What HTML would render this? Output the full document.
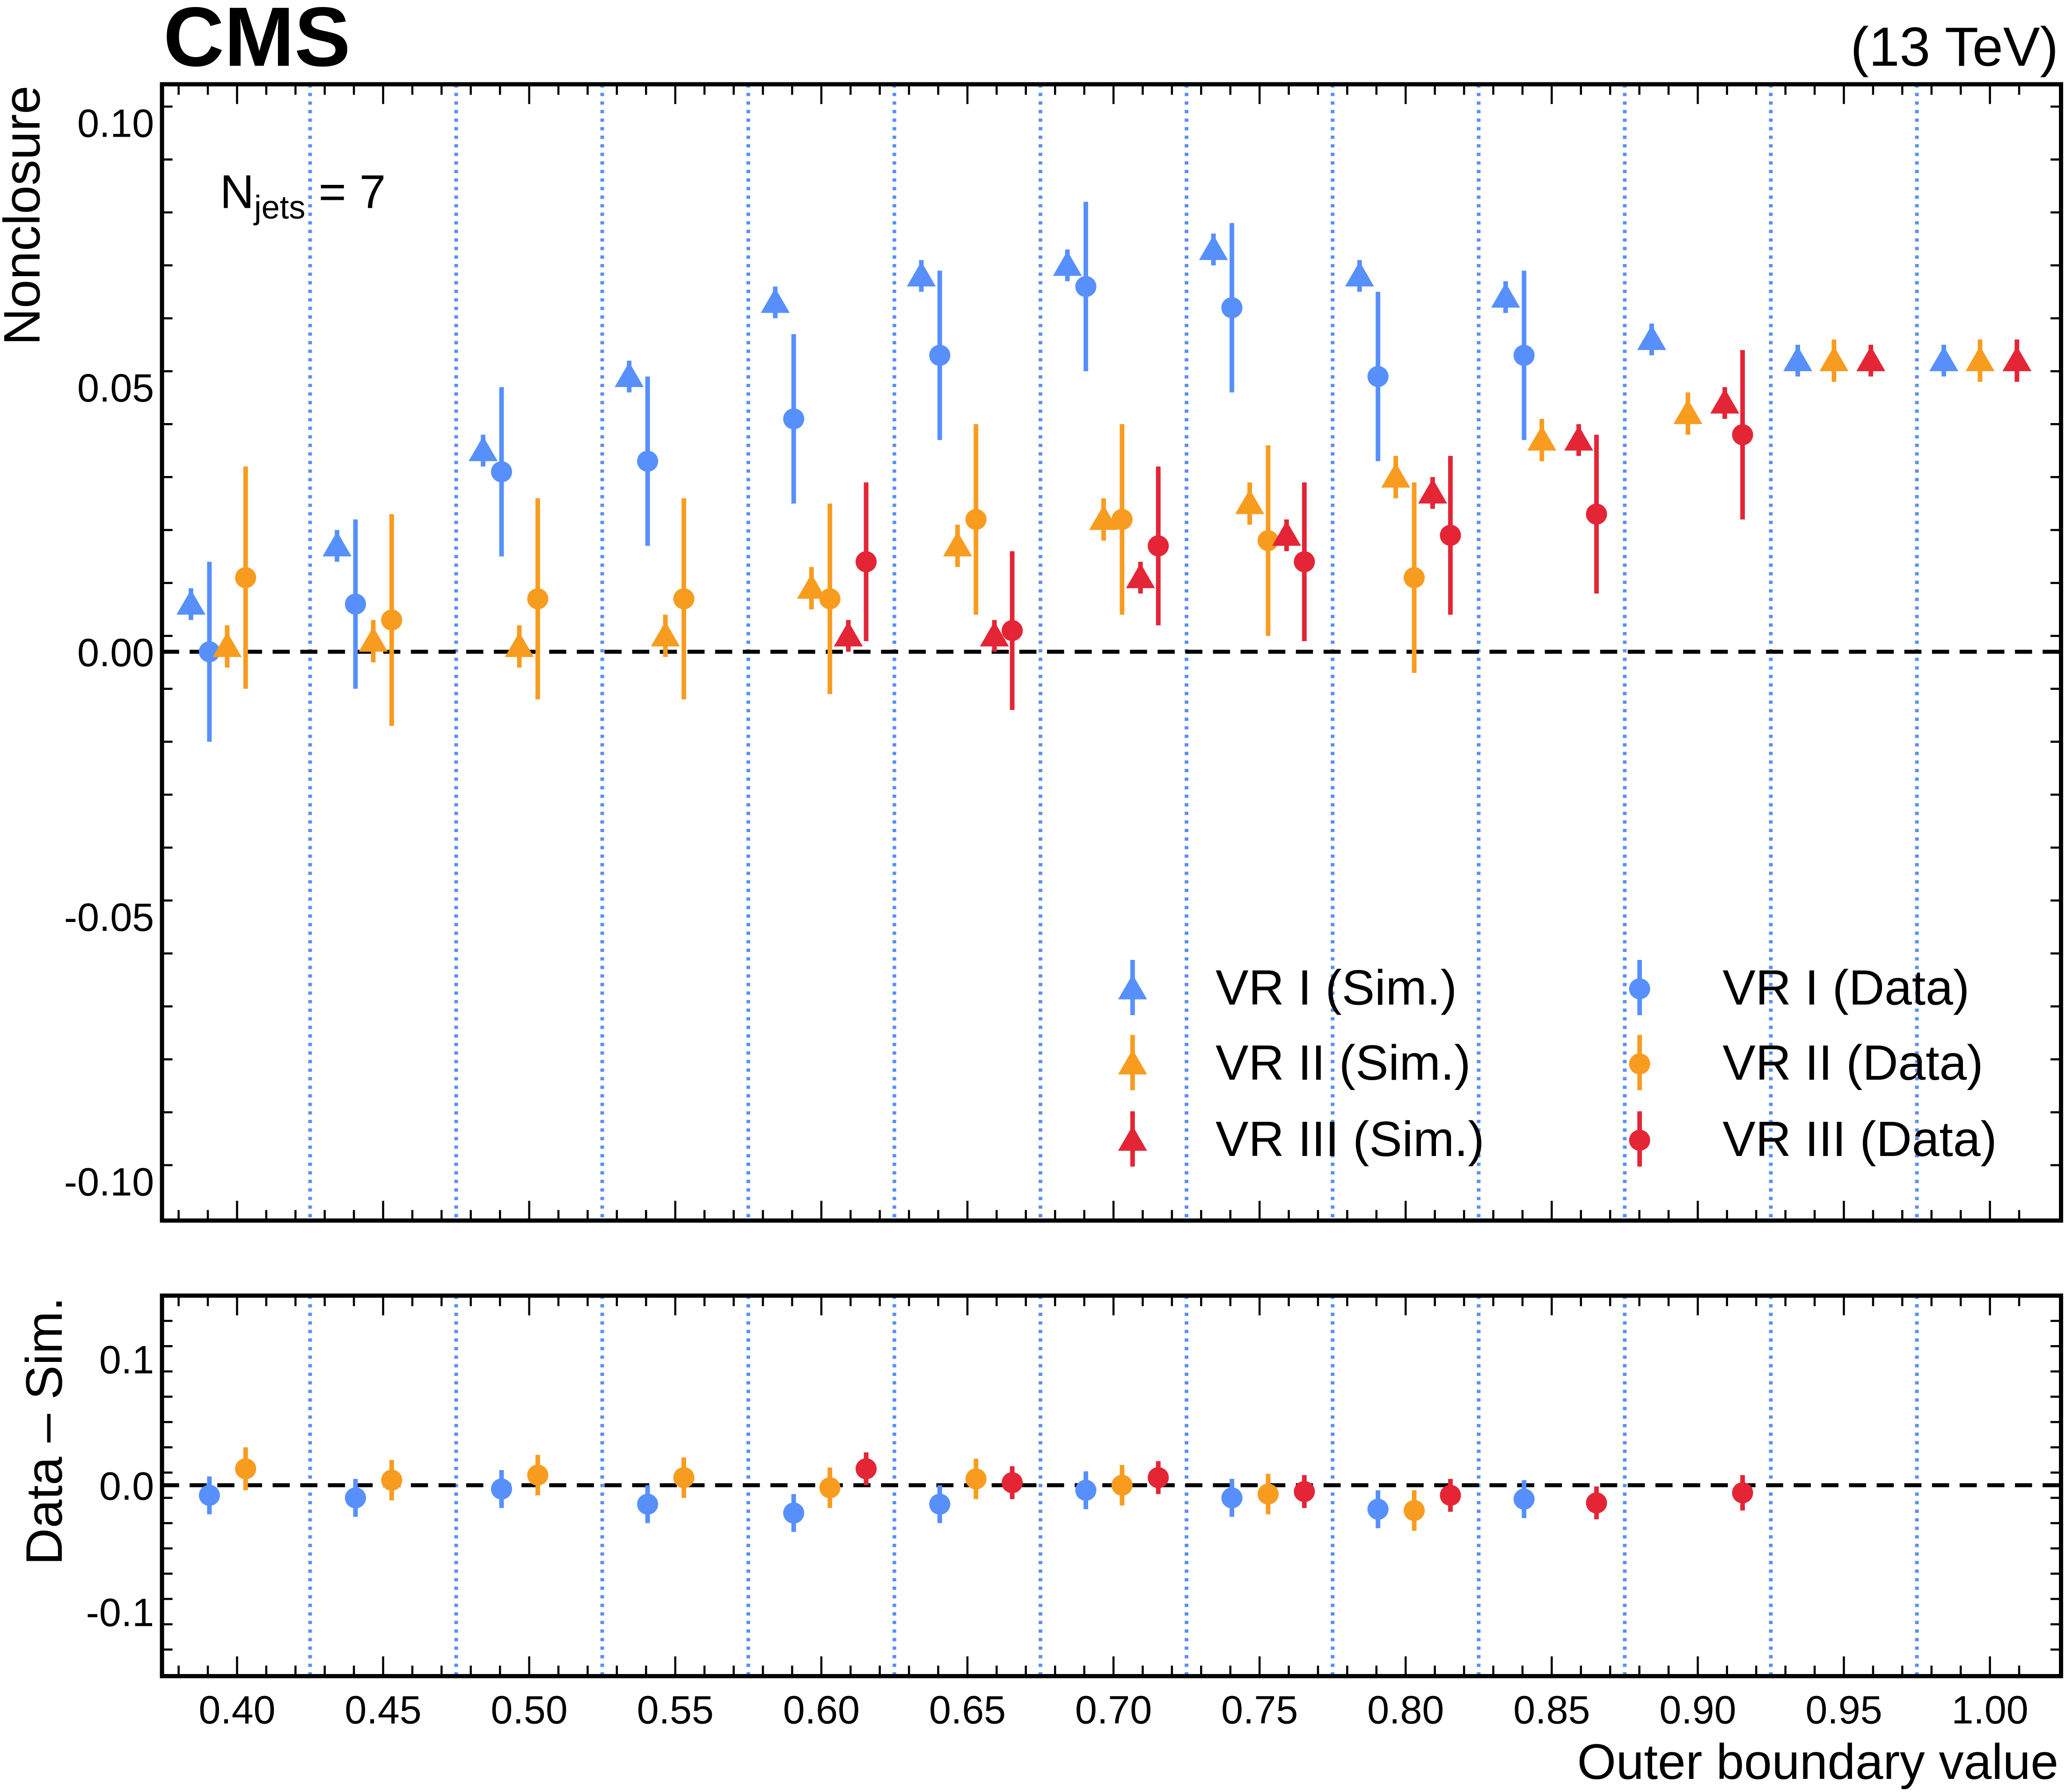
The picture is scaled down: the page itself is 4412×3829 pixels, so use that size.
<!DOCTYPE html>
<html><head><meta charset="utf-8"><style>
html,body{margin:0;padding:0;background:#fff;}
svg{display:block;}
text{font-family:"Liberation Sans",sans-serif;fill:#000;}
</style></head><body>
<svg id="chart" width="4412" height="3829" viewBox="0 0 1568 1361" preserveAspectRatio="none" xmlns="http://www.w3.org/2000/svg">
<g id="g"></g>
</svg>
<script>
const outerValues=[0.40,0.45,0.50,0.55,0.60,0.65,0.70,0.75,0.80,0.85,0.90,0.95,1.00];
// main panel values [value, error] per series, null = absent
const vr1Sim=[[0.009,0.003],[0.020,0.003],[0.038,0.003],[0.052,0.003],[0.066,0.003],[0.071,0.003],[0.073,0.003],[0.076,0.003],[0.071,0.003],[0.067,0.003],[0.059,0.003],[0.055,0.003],[0.055,0.003]];
const vr1Data=[[0.000,0.017],[0.009,0.016],[0.034,0.016],[0.036,0.016],[0.044,0.016],[0.056,0.016],[0.069,0.016],[0.065,0.016],[0.052,0.016],[0.056,0.016],null,null,null];
const vr2Sim=[[0.001,0.004],[0.002,0.004],[0.001,0.004],[0.003,0.004],[0.012,0.004],[0.020,0.004],[0.025,0.004],[0.028,0.004],[0.033,0.004],[0.040,0.004],[0.045,0.004],[0.055,0.004],[0.055,0.004]];
const vr2Data=[[0.014,0.021],[0.006,0.020],[0.010,0.019],[0.010,0.019],[0.010,0.018],[0.025,0.018],[0.025,0.018],[0.021,0.018],[0.014,0.018],null,null,null,null];
const vr3Sim=[null,null,null,null,[0.003,0.003],[0.003,0.003],[0.014,0.003],[0.022,0.003],[0.030,0.003],[0.040,0.003],[0.047,0.003],[0.055,0.003],[0.055,0.004]];
const vr3Data=[null,null,null,null,[0.017,0.015],[0.004,0.015],[0.020,0.015],[0.017,0.015],[0.022,0.015],[0.026,0.015],[0.041,0.016],null,null];
// ratio panel data - sim
const diff1=[[-0.008,0.015],[-0.010,0.015],[-0.003,0.015],[-0.015,0.015],[-0.022,0.015],[-0.015,0.015],[-0.004,0.015],[-0.010,0.015],[-0.019,0.015],[-0.011,0.015],null,null,null];
const diff2=[[0.013,0.017],[0.004,0.016],[0.008,0.016],[0.006,0.016],[-0.002,0.016],[0.005,0.016],[0.000,0.016],[-0.007,0.016],[-0.020,0.016],null,null,null,null];
const diff3=[null,null,null,null,[0.013,0.013],[0.002,0.013],[0.006,0.013],[-0.005,0.013],[-0.008,0.013],[-0.014,0.013],[-0.006,0.014],null,null];
const mainTicks=[0.10,0.05,0.00,-0.05,-0.10];
const mainTickLabels=["0.10","0.05","0.00","-0.05","-0.10"];
const ratioTicks=[0.1,0.0,-0.1];
const ratioTickLabels=["0.1","0.0","-0.1"];
const xTickLabels=["0.40","0.45","0.50","0.55","0.60","0.65","0.70","0.75","0.80","0.85","0.90","0.95","1.00"];

const BLUE="#5790fc",ORANGE="#f89c20",RED="#e42536";
const L=123,R=1565,T1=64,B1=927,T2=984,B2=1273;
const xS=v=>180+(v-0.40)*(1331/0.6);
const yM=v=>495-v*4020;
const yR=v=>1128-v*960;
const NS="http://www.w3.org/2000/svg";
const g=document.getElementById('g');
function el(tag,attrs,parent){const e=document.createElementNS(NS,tag);for(const k in attrs)e.setAttribute(k,attrs[k]);(parent||g).appendChild(e);return e;}

function panel(top,bot,yf,name,minStep,lo,hi,ticks,labels){
  const p=el('g',{});
  
  
  for(let b=0.425;b<1.0;b+=0.05){
    const l=el('line',{x1:xS(b),x2:xS(b),y1:top,y2:bot,stroke:BLUE,'stroke-width':2.8,'stroke-dasharray':'2.5 4'},p);
    
    
  }
  for(let i=0;i<=64;i++){
    const v=0.37+i*0.01; const x=xS(v); if(x<L+2||x>R-2)continue;
    const major=Math.abs(Math.round(v*100)%5)===0;
    const len=major?15:8;
    el('line',{x1:x,x2:x,y1:bot,y2:bot-len,stroke:'#000','stroke-width':1.6},p);
    el('line',{x1:x,x2:x,y1:top,y2:top+len,stroke:'#000','stroke-width':1.6},p);
  }
  const n=Math.round((hi-lo)/minStep);
  for(let i=0;i<=n;i++){
    const v=lo+i*minStep; const y=yf(v); if(y<top+2||y>bot-2)continue;
    const major=ticks.some(t=>Math.abs(t-v)<1e-6);
    const len=major?15:8;
    el('line',{x1:L,x2:L+len,y1:y,y2:y,stroke:'#000','stroke-width':1.6},p);
    el('line',{x1:R,x2:R-len,y1:y,y2:y,stroke:'#000','stroke-width':1.6},p);
  }
  ticks.forEach((t,i)=>{
    const tx=el('text',{x:L-6,y:yf(t)+11,'text-anchor':'end','font-size':30},p);
    tx.textContent=labels[i];
    
    
  });
  const z=el('line',{x1:L,x2:R,y1:yf(0),y2:yf(0),stroke:'#000','stroke-width':3,'stroke-dasharray':'13 8'},p);
  
  
  const f=el('rect',{x:L,y:top,width:R-L,height:bot-top,fill:'none',stroke:'#000','stroke-width':3.2},p);
  
  
  return p;
}
panel(T1,B1,yM,'main-panel',0.01,-0.107,0.107,mainTicks,mainTickLabels);
panel(T2,B2,yR,'ratio-panel',0.02,-0.15,0.15,ratioTicks,ratioTickLabels);

function marker(x,y,shape,color,parent){
  if(shape==='tri') return el('polygon',{points:`${x},${y-11} ${x-11},${y+8} ${x+11},${y+8}`,fill:color},parent);
  return el('circle',{cx:x,cy:y,r:8,fill:color},parent);
}
function series(arr,yf,off,shape,color,name){
  const s=el('g',{});
  
  
  arr.forEach((d,i)=>{
    if(!d)return;
    const x=xS(outerValues[i])+off;
    el('line',{x1:x,x2:x,y1:yf(d[0]-d[1]),y2:yf(d[0]+d[1]),stroke:color,'stroke-width':3.5},s);
    const m=marker(x,yf(d[0]),shape,color,s);
    
    
  });
}
series(vr1Sim,yM,-35,'tri',BLUE,'vr1-sim');
series(vr1Data,yM,-21,'circ',BLUE,'vr1-data');
series(vr2Sim,yM,-7.5,'tri',ORANGE,'vr2-sim');
series(vr2Data,yM,6.5,'circ',ORANGE,'vr2-data');
series(vr3Sim,yM,20.5,'tri',RED,'vr3-sim');
series(vr3Data,yM,34,'circ',RED,'vr3-data');
series(diff1,yR,-21,'circ',BLUE,'vr1-diff');
series(diff2,yR,6.5,'circ',ORANGE,'vr2-diff');
series(diff3,yR,34,'circ',RED,'vr3-diff');

outerValues.forEach((v,i)=>{
  const t=el('text',{x:xS(v),y:1309,'text-anchor':'middle','font-size':30});
  t.textContent=xTickLabels[i];
  
  
});

const legItems=[['tri',BLUE,'VR I (Sim.)',860,750],['tri',ORANGE,'VR II (Sim.)',860,807],['tri',RED,'VR III (Sim.)',860,865],
['circ',BLUE,'VR I (Data)',1245,750],['circ',ORANGE,'VR II (Data)',1245,807],['circ',RED,'VR III (Data)',1245,865]];
const lg=el('g',{});


legItems.forEach(it=>{
  const e=el('g',{},lg);
  
  
  el('line',{x1:it[3],x2:it[3],y1:it[4]-21,y2:it[4]+21,stroke:it[1],'stroke-width':3.5},e);
  marker(it[3],it[4]+1,it[0],it[1],e);
  const t=el('text',{x:it[3]+63,y:it[4]+13,'font-size':37.5},e);
  t.textContent=it[2];
});
</script>
<svg style="position:absolute;left:0;top:0" width="4412" height="3829" viewBox="0 0 1568 1361" preserveAspectRatio="none" xmlns="http://www.w3.org/2000/svg">
<text x="124" y="50" font-size="64" font-weight="bold" font-family="Liberation Sans, sans-serif">CMS</text>
<text x="1563" y="50" font-size="42" text-anchor="end" font-family="Liberation Sans, sans-serif">(13 TeV)</text>
<text x="167" y="158" font-size="36" font-family="Liberation Sans, sans-serif">N<tspan font-size="25" dy="8">jets</tspan><tspan dy="-8"> = 7</tspan></text>
<text transform="translate(30,65) rotate(-90)" text-anchor="end" font-size="39" font-family="Liberation Sans, sans-serif">Nonclosure</text>
<text transform="translate(47,985) rotate(-90)" text-anchor="end" font-size="39" font-family="Liberation Sans, sans-serif">Data – Sim.</text>
<text x="1563" y="1351" text-anchor="end" font-size="38" font-family="Liberation Sans, sans-serif">Outer boundary value</text>
</svg>
</body></html>
